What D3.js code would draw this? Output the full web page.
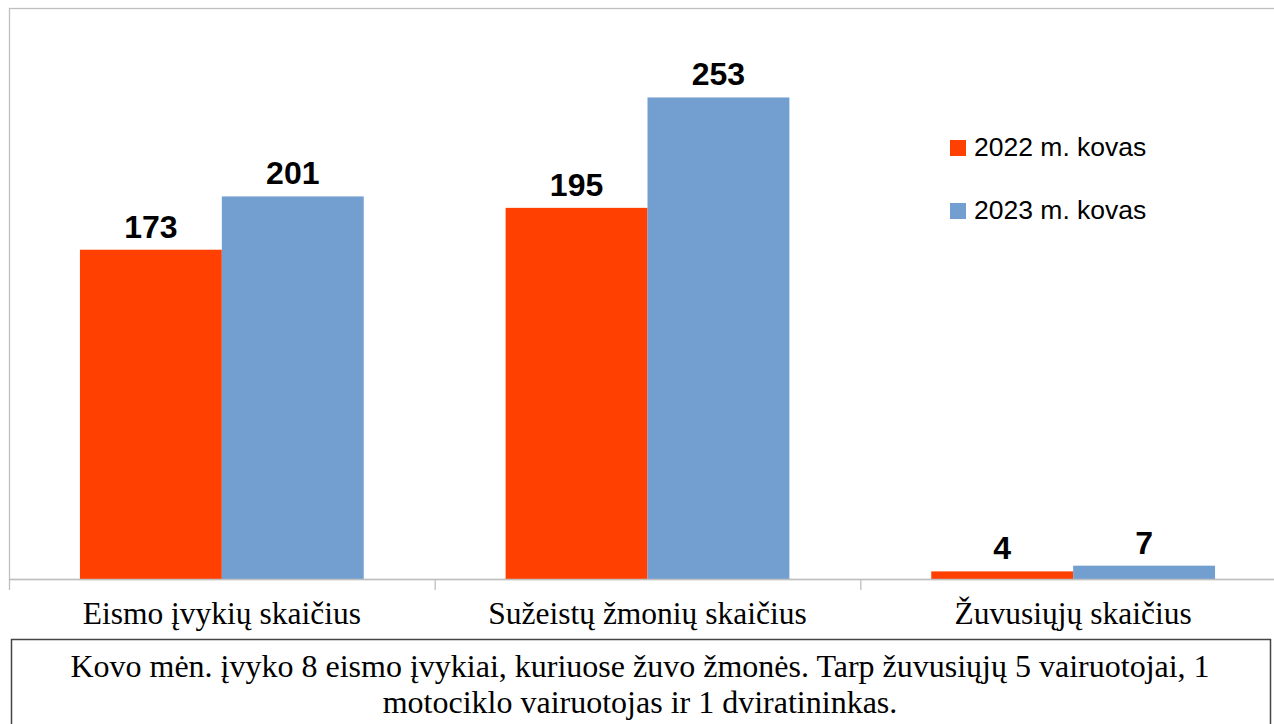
<!DOCTYPE html>
<html>
<head>
<meta charset="utf-8">
<script src="https://cdn.jsdelivr.net/npm/d3@7"></script>
<style>
  body { margin: 0; background: #fff; }
  svg { display: block; }
</style>
</head>
<body>
<svg id="chart" width="1274" height="724"></svg>
<script>
// duomenys
const categories = ['Eismo įvykių skaičius', 'Sužeistų žmonių skaičius', 'Žuvusiųjų skaičius'];
const series = ['2022 m. kovas', '2023 m. kovas'];
const values2022 = [173, 195, 4];
const values2023 = [201, 253, 7];
const noteLines = [
  'Kovo mėn. įvyko 8 eismo įvykiai, kuriuose žuvo žmonės. Tarp žuvusiųjų 5 vairuotojai, 1',
  'motociklo vairuotojas ir 1 dviratininkas.'
];

const colors = { '2022 m. kovas': '#ff4000', '2023 m. kovas': '#729fcf' };
const svg = d3.select('#chart');

const plot = { left: 9, right: 1286, top: 8, bottom: 579 };

const x0 = d3.scaleBand().domain(categories).range([plot.left, plot.right]).padding(0);
const x1 = d3.scaleBand().domain(series).range([0, x0.bandwidth()]).paddingInner(0).paddingOuter(0.5);
const y = d3.scaleLinear().domain([0, 300]).range([plot.bottom, plot.top]);

const data = categories.map((c, i) => ({
  cat: c,
  vals: [{ s: series[0], v: values2022[i] }, { s: series[1], v: values2023[i] }]
}));

// plot area frame
svg.append('rect')
  .attr('x', plot.left + 0.5).attr('y', plot.top + 0.5)
  .attr('width', plot.right - plot.left).attr('height', plot.bottom - plot.top)
  .attr('fill', 'none').attr('stroke', '#bfbfbf').attr('stroke-width', 1.3);

// bars
const groups = svg.append('g').selectAll('g')
  .data(data).join('g')
  .attr('transform', d => `translate(${x0(d.cat)},0)`);

groups.selectAll('rect')
  .data(d => d.vals).join('rect')
  .attr('x', d => x1(d.s))
  .attr('y', d => y(d.v))
  .attr('width', x1.bandwidth())
  .attr('height', d => y(0) - y(d.v))
  .attr('fill', d => colors[d.s]);

groups.selectAll('text')
  .data(d => d.vals).join('text')
  .attr('x', d => x1(d.s) + x1.bandwidth() / 2)
  .attr('y', d => y(d.v) - 12)
  .attr('text-anchor', 'middle')
  .style('font-family', '"Liberation Sans", Arial, sans-serif')
  .style('font-weight', 'bold')
  .style('font-size', '32px')
  .text(d => d.v);

// x axis
const xAxis = svg.append('g')
  .attr('transform', `translate(0,${plot.bottom})`);
xAxis.append('line')
  .attr('x1', plot.left).attr('x2', plot.right)
  .attr('y1', 0.5).attr('y2', 0.5)
  .attr('stroke', '#bfbfbf').attr('stroke-width', 1.3);
xAxis.selectAll('.tick')
  .data(categories.concat(['end'])).join('line')
  .attr('class', 'tick')
  .attr('x1', (d, i) => i < categories.length ? x0(d) + 0.5 : plot.right)
  .attr('x2', (d, i) => i < categories.length ? x0(d) + 0.5 : plot.right)
  .attr('y1', 0).attr('y2', 11)
  .attr('stroke', '#bfbfbf').attr('stroke-width', 1.3);
xAxis.selectAll('.lbl')
  .data(categories).join('text')
  .attr('class', 'lbl')
  .attr('x', d => x0(d) + x0.bandwidth() / 2)
  .attr('y', 45)
  .attr('text-anchor', 'middle')
  .style('font-family', '"Liberation Serif", "Times New Roman", serif')
  .style('font-size', '31.5px')
  .text(d => d);

// legend
const legend = svg.append('g').selectAll('g')
  .data(series).join('g')
  .attr('transform', (d, i) => `translate(950,${140 + i * 63})`);
legend.append('rect')
  .attr('width', 16).attr('height', 16)
  .attr('fill', d => colors[d]);
legend.append('text')
  .attr('x', 24).attr('y', 16)
  .style('font-family', '"Liberation Sans", Arial, sans-serif')
  .style('font-size', '26.5px')
  .text(d => d);

// note box
svg.append('rect')
  .attr('x', 11.5).attr('y', 639.5)
  .attr('width', 1259).attr('height', 120)
  .attr('fill', '#fff').attr('stroke', '#444').attr('stroke-width', 1.5);
svg.append('g').selectAll('text')
  .data(noteLines).join('text')
  .attr('x', 640)
  .attr('y', (d, i) => 677 + i * 36)
  .attr('text-anchor', 'middle')
  .style('font-family', '"Liberation Serif", "Times New Roman", serif')
  .style('font-size', '32px')
  .text(d => d);
</script>
</body>
</html>
